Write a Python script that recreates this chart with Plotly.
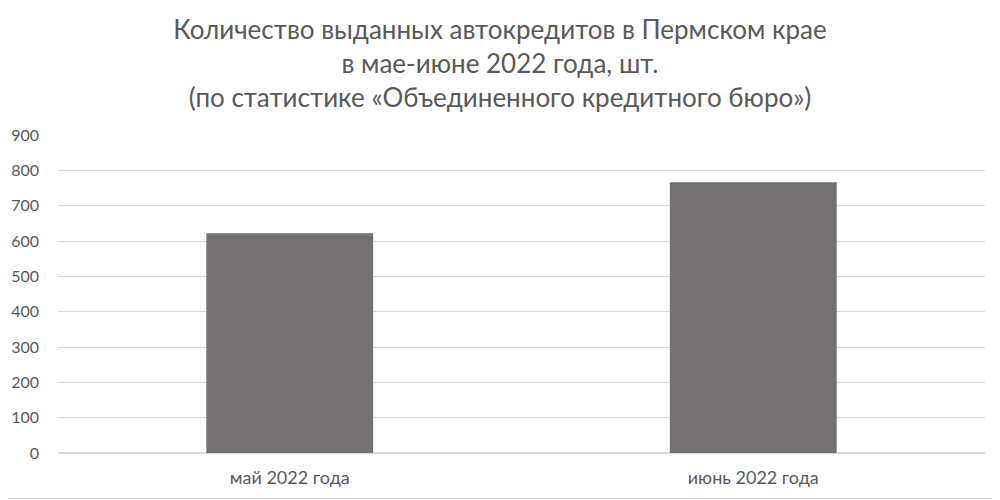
import plotly.graph_objects as go

# данные
months = ["май 2022 года", "июнь 2022 года"]
loans = [622, 766]
y_ticks = [0, 100, 200, 300, 400, 500, 600, 700, 800, 900]

title_text = ("Количество выданных автокредитов в Пермском крае<br>"
              "в мае-июне 2022 года, шт.<br>"
              "(по статистике «Объединенного кредитного бюро»)")

# страница сдвигает график на 8px (отступ body), поэтому поля чуть меньше
W, H = 1000, 500
ml, mr, mt, mb = 50, 23, 127, 55

fig = go.Figure()
fig.add_trace(go.Bar(x=months, y=loans, marker_color="#767171",
                     marker_line_width=0, hoverinfo="x+y"))

fig.update_layout(
    width=W, height=H,
    margin=dict(l=ml, r=mr, t=mt, b=mb),
    paper_bgcolor="white", plot_bgcolor="white",
    font=dict(family="Lato, Open Sans, sans-serif", color="#595959", size=16),
    title=dict(text=title_text, x=0.492, xanchor="center", y=0.938, yanchor="middle",
               font=dict(size=26, color="#595959")),
    bargap=0.64,
    showlegend=False,
)
fig.update_yaxes(range=[0, 900], tickvals=y_ticks, showgrid=True, gridcolor="#d9d9d9",
                 gridwidth=1, zeroline=True, zerolinecolor="#d9d9d9", showline=False,
                 ticks="", ticklabelstandoff=18, automargin=False)
fig.update_xaxes(showgrid=False, showline=False, ticks="", ticklabelstandoff=12,
                 tickfont=dict(size=18), automargin=False)

# рамка: видны только правый и нижний края
pw, ph = W - ml - mr, H - mt - mb
fig.add_shape(type="line", xref="paper", yref="paper",
              x0=1 + (mr - 9.5) / pw, x1=1 + (mr - 9.5) / pw,
              y0=-(mb - 9.5) / ph, y1=1 + mt / ph,
              line=dict(color="#d9d9d9", width=1))
fig.add_shape(type="line", xref="paper", yref="paper",
              x0=-ml / pw, x1=1 + (mr - 9.5) / pw,
              y0=-(mb - 9.5) / ph, y1=-(mb - 9.5) / ph,
              line=dict(color="#d9d9d9", width=1))

fig.write_html("out.html")
